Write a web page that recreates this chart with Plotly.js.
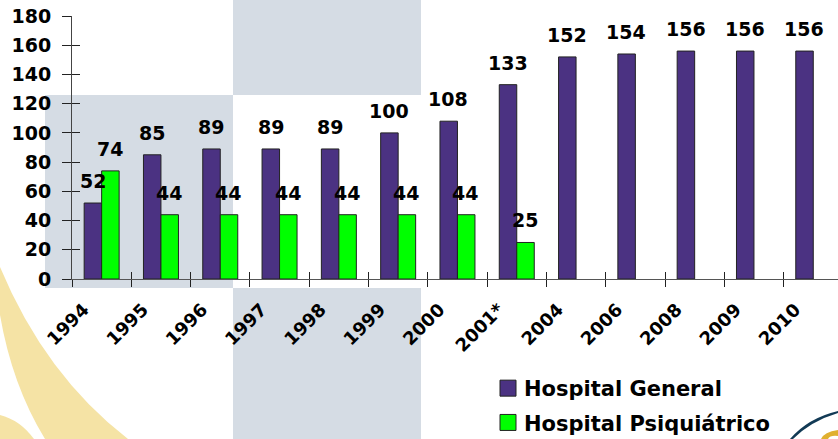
<!DOCTYPE html>
<html><head><meta charset="utf-8"><script src="https://cdn.plot.ly/plotly-3.0.1.min.js"></script>
<style>html,body{margin:0;padding:0;background:#fff}</style></head><body><div id="c" style="width:838px;height:439px"></div>
<script>
const categories=['1994','1995','1996','1997','1998','1999','2000','2001*','2004','2006','2008','2009','2010'];
const general=[52,85,89,89,89,100,108,133,152,154,156,156,156];
const psiquiatrico=[74,44,44,44,44,44,44,25,null,null,null,null,null];
const yTicks=[0,20,40,60,80,100,120,140,160,180];
const FONT='"DejaVu Sans", sans-serif';
const L=72,T=16,W=766,H=263;
const X=p=>(p-L)/W, Y=p=>(T+H-p)/H;
const rect=(x0,y0,x1,y1,c)=>({type:'rect',xref:'paper',yref:'paper',x0:X(x0),x1:X(x1),y0:Y(y0),y1:Y(y1),fillcolor:c,line:{width:0},layer:'below'});
const path=(pts,c)=>({type:'path',xref:'paper',yref:'paper',path:pts.replace(/(-?[\d.]+),(-?[\d.]+)/g,(m,a,b)=>X(+a)+','+Y(+b)),fillcolor:c,line:{width:0},layer:'below'});
const yellow='#f5e3a5', gray='#d5dce4';
const shapes=[
 path('M0,267 Q45,375 128,439 L45,439 Q12,385 0,315 Z',yellow),
 path('M0,415 Q20,420 34,439 L0,439 Z',yellow),
 rect(45,95,233,288,gray),rect(233,0,421,95,gray),rect(233,288,421,439,gray),
 path('M790,439 Q808,418 838,411 L838,413 Q811,421 793,439 Z','#123a55'),
 path('M821,439 Q824,432 838,430 L838,436 Q830,435 828,439 Z','#e0b030')
];
const labels=[];
categories.forEach((c,i)=>{
 labels.push({x:i,y:general[i],text:String(general[i]),xshift:-9});
 if(psiquiatrico[i]!=null)labels.push({x:i,y:psiquiatrico[i],text:String(psiquiatrico[i]),xshift:8});
});
const annotations=labels.map(a=>Object.assign(a,{xref:'x',yref:'y',yshift:10,showarrow:false,yanchor:'bottom',font:{family:FONT,size:19,color:'#000',weight:700},borderpad:0}));
const barLine={color:'#222',width:1};
const xr=[-0.5,12.417];
Plotly.newPlot('c',[
 {type:'bar',name:'Hospital General',legendgroup:'a',x:categories,y:general,marker:{color:'#4b3282',line:barLine}},
 {type:'bar',name:'Hospital Psiquiátrico',legendgroup:'b',x:categories,y:psiquiatrico,marker:{color:'#00ff00',line:barLine}},
 {type:'scatter',mode:'markers',x:categories,y:general,xaxis:'x2',yaxis:'y2',marker:{opacity:0},showlegend:false,hoverinfo:'skip'}
],{
 width:838,height:439,paper_bgcolor:'rgba(0,0,0,0)',plot_bgcolor:'rgba(0,0,0,0)',
 margin:{l:L,r:0,t:T,b:439-T-H,pad:0,autoexpand:false},barmode:'group',bargap:0.41,bargroupgap:0,showlegend:true,hovermode:false,
 font:{family:FONT,color:'#000'},
 legend:{x:(484-L)/W,y:Y(368),xanchor:'left',yanchor:'top',bgcolor:'rgba(0,0,0,0)',tracegroupgap:4,traceorder:'grouped',font:{family:FONT,size:21,weight:700,color:'#000'},itemwidth:30},
 xaxis:{type:'category',categoryorder:'array',categoryarray:categories,range:xr,tickson:'boundaries',ticks:'outside',ticklen:7,tickcolor:'#222',tickwidth:1,showline:true,linecolor:'#555',linewidth:1,showgrid:false,zeroline:false,tickangle:-45,ticklabelshift:-18,ticklabelstandoff:12,tickfont:{family:FONT,size:18,weight:700,color:'#000'}},
 yaxis:{range:[0,180],tickvals:yTicks,ticks:'outside',ticklen:9,tickcolor:'#222',tickwidth:1,showline:true,linecolor:'#444',linewidth:1,showgrid:false,zeroline:false,ticklabelstandoff:7,tickfont:{family:FONT,size:19,weight:700,color:'#000'}},
 xaxis2:{type:'category',categoryorder:'array',categoryarray:categories,range:xr,overlaying:'x',anchor:'y2',tickson:'boundaries',ticks:'inside',ticklen:7,tickcolor:'#222',tickwidth:1,showline:false,showgrid:false,zeroline:false,showticklabels:false},
 yaxis2:{range:[0,180],overlaying:'y',anchor:'x2',tickvals:yTicks,ticks:'inside',ticklen:8,tickcolor:'#222',tickwidth:1,showline:false,showgrid:false,zeroline:false,showticklabels:false},
 shapes,annotations
},{displayModeBar:false,responsive:false}).then(gd=>{
 gd.querySelectorAll('.legendpoints path').forEach(p=>{p.setAttribute('d','M8,8H-8V-8H8Z');p.setAttribute('transform','translate(24,0)');});
});
</script></body></html>
